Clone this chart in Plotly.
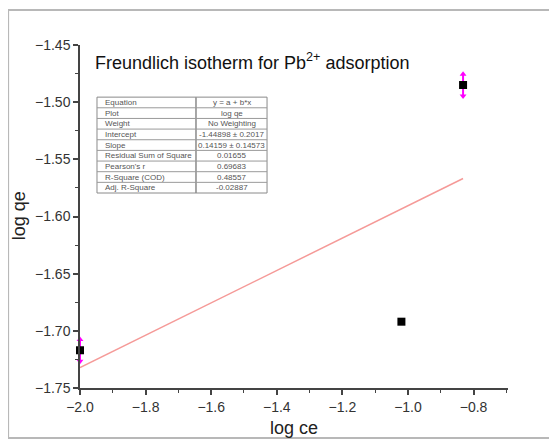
import plotly.graph_objects as go

# Data
log_ce = [-2.0, -1.02, -0.832]
log_qe = [-1.717, -1.692, -1.485]
err = [0.0095, 0.0, 0.0095]

intercept = -1.44898
slope = 0.14159

table_params = ["Equation", "Plot", "Weight", "Intercept", "Slope",
                "Residual Sum of Square", "Pearson's r", "R-Square (COD)", "Adj. R-Square"]
table_values = ["y = a + b*x", "log qe", "No Weighting", "-1.44898 \u00b1 0.2017",
                "0.14159 \u00b1 0.14573", "0.01655", "0.69683", "0.48557", "-0.02887"]

x_ticks = [-2.0, -1.8, -1.6, -1.4, -1.2, -1.0, -0.8]
x_ticktext = ["\u22122.0", "\u22121.8", "\u22121.6", "\u22121.4", "\u22121.2", "\u22121.0", "\u22120.8"]
y_ticks = [-1.75, -1.70, -1.65, -1.60, -1.55, -1.50, -1.45]
y_ticktext = ["\u22121.75", "\u22121.70", "\u22121.65", "\u22121.60", "\u22121.55", "\u22121.50", "\u22121.45"]

FONT = "Arial, Liberation Sans, sans-serif"

fit_x = [min(log_ce), max(log_ce)]
fit_y = [intercept + slope * v for v in fit_x]

fig = go.Figure()

fig.add_trace(go.Scatter(x=fit_x, y=fit_y, mode="lines",
                         line=dict(color="#f59a98", width=1.5), showlegend=False))

fig.add_trace(go.Scatter(
    x=log_ce, y=log_qe, mode="markers",
    marker=dict(symbol="square", size=8, color="black"),
    error_y=dict(type="data", array=err, color="#ff00ff", thickness=2, width=0),
    showlegend=False, cliponaxis=False))

# arrowheads for error bars
up_x = [x for x, e in zip(log_ce, err) if e > 0]
up_y = [y + e for y, e in zip(log_qe, err) if e > 0]
dn_y = [y - e for y, e in zip(log_qe, err) if e > 0]
fig.add_trace(go.Scatter(x=up_x, y=up_y, mode="markers",
                         marker=dict(symbol="triangle-up", size=6, color="#ff00ff"),
                         showlegend=False, cliponaxis=False))
fig.add_trace(go.Scatter(x=up_x, y=dn_y, mode="markers",
                         marker=dict(symbol="triangle-down", size=6, color="#ff00ff"),
                         showlegend=False, cliponaxis=False))

# Table drawn with shapes + annotations (paper coordinates)
tx0, tdiv, tx1 = 0.0397, 0.271, 0.437
ty_top, ty_bot = 0.848, 0.5685
n = len(table_params)
rh = (ty_top - ty_bot) / n
shapes = [dict(type="rect", xref="paper", yref="paper",
               x0=-0.168, x1=1.2, y0=-0.146, y1=1.102,
               line=dict(color="#b8b8b8", width=2), layer="below"),
          dict(type="rect", xref="paper", yref="paper",
               x0=tx0, x1=tx1, y0=ty_bot, y1=ty_top,
               line=dict(color="#8a8a8a", width=1), fillcolor="white", layer="above"),
          dict(type="line", xref="paper", yref="paper",
               x0=tdiv, x1=tdiv, y0=ty_bot, y1=ty_top,
               line=dict(color="#8a8a8a", width=1.5))]
for i in range(1, n):
    yy = ty_top - i * rh
    shapes.append(dict(type="line", xref="paper", yref="paper",
                       x0=tx0, x1=tx1, y0=yy, y1=yy,
                       line=dict(color="#9a9a9a", width=1)))

annotations = [
    dict(text="Freundlich isotherm for Pb<sup>2+</sup> adsorption",
         xref="paper", yref="paper", x=0.03, y=0.952,
         xanchor="left", yanchor="middle", showarrow=False,
         font=dict(size=18, color="#111")),
    dict(text="log qe", xref="paper", yref="paper", x=-0.1425, y=0.501,
         xanchor="center", yanchor="middle", textangle=-90, showarrow=False,
         font=dict(size=18, color="#222")),
    dict(text="log ce", xref="paper", yref="paper", x=0.5, y=-0.116,
         xanchor="center", yanchor="middle", showarrow=False,
         font=dict(size=18, color="#222")),
]
for i, (p, v) in enumerate(zip(table_params, table_values)):
    yc = ty_top - (i + 0.5) * rh
    annotations.append(dict(text=p, xref="paper", yref="paper", x=tx0 + 0.013, y=yc,
                            xanchor="left", yanchor="middle", showarrow=False,
                            font=dict(size=8, color="#555")))
    annotations.append(dict(text=v, xref="paper", yref="paper", x=(tdiv + tx1) / 2, y=yc,
                            xanchor="center", yanchor="middle", showarrow=False,
                            font=dict(size=8, color="#555")))

axis_common = dict(showgrid=False, zeroline=False, showline=True, linecolor="#444", linewidth=1.5,
                   ticks="outside", ticklen=5, tickwidth=1.5, tickcolor="#444",
                   tickfont=dict(size=14, color="#333"), automargin=False)

fig.update_layout(
    width=557, height=439,
    margin=dict(l=72, r=57, t=37, b=59),
    paper_bgcolor="white", plot_bgcolor="white",
    font=dict(family=FONT, color="#222"),
    xaxis=dict(range=[-2.0, -0.695], tickvals=x_ticks, ticktext=x_ticktext,
               minor=dict(dtick=0.1, ticks="outside", ticklen=3, tickwidth=1, tickcolor="#444"),
               **axis_common),
    yaxis=dict(range=[-1.75, -1.45], tickvals=y_ticks, ticktext=y_ticktext,
               minor=dict(dtick=0.025, ticks="outside", ticklen=3, tickwidth=1, tickcolor="#444"),
               **axis_common),
    annotations=annotations,
    shapes=shapes,
)

fig.write_html("out.html")
